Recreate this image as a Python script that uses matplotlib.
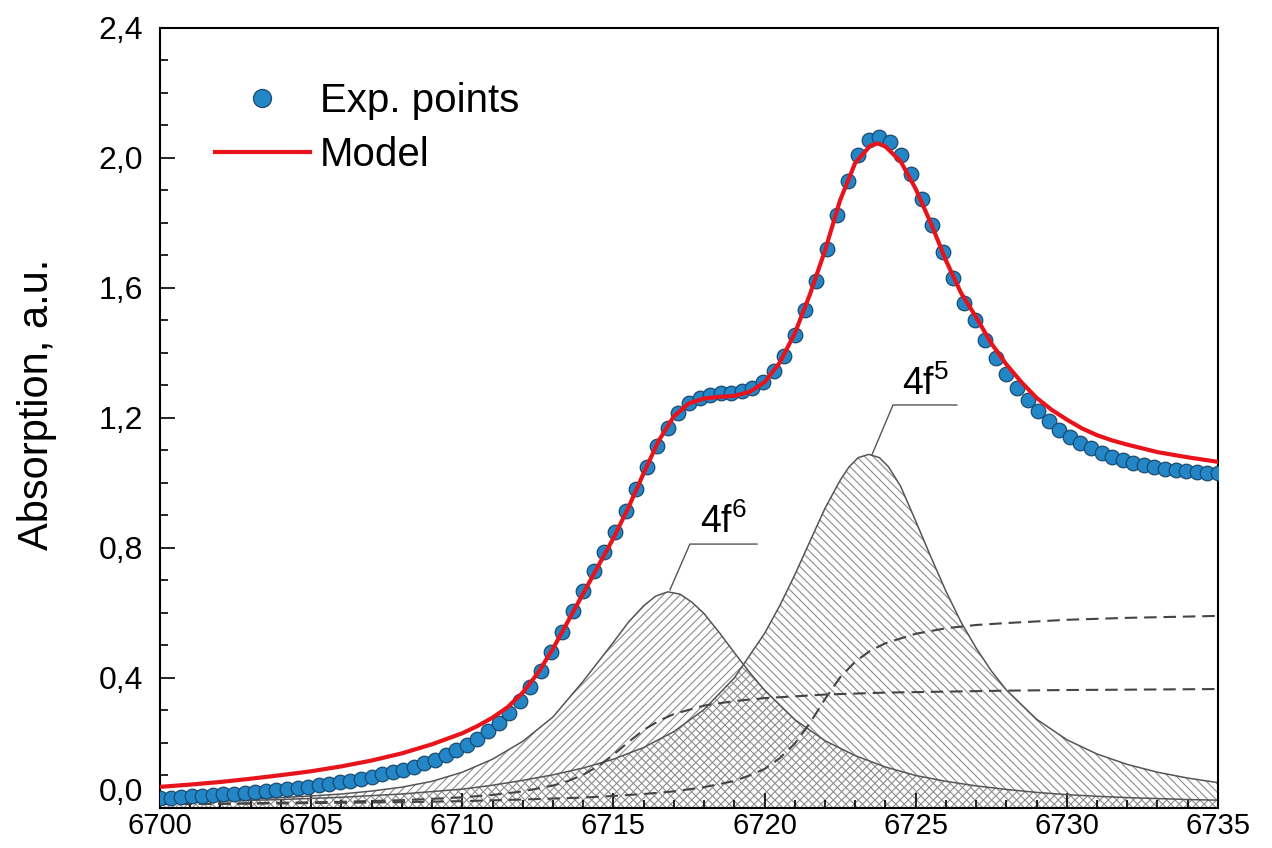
import numpy as np
import matplotlib
matplotlib.use("Agg")
import matplotlib.pyplot as plt
from matplotlib.lines import Line2D
from matplotlib.ticker import FuncFormatter, MultipleLocator

plt.rcParams['font.family'] = ['Liberation Sans', 'DejaVu Sans']
plt.rcParams['mathtext.default'] = 'regular'
plt.rcParams['hatch.linewidth'] = 0.8

# experimental points (regular energy grid, 0.35 eV)
exp_x = np.arange(101) * 0.35 + 6700
exp_y = [
    0.030, 0.032, 0.034, 0.036, 0.038, 0.040, 0.042, 0.044, 0.047, 0.050,
    0.053, 0.056, 0.059, 0.062, 0.066, 0.070, 0.074, 0.079, 0.084, 0.090,
    0.096, 0.103, 0.110, 0.118, 0.127, 0.137, 0.149, 0.162, 0.177, 0.194,
    0.213, 0.236, 0.262, 0.293, 0.330, 0.373, 0.423, 0.480, 0.542, 0.605,
    0.667, 0.728, 0.788, 0.850, 0.915, 0.982, 1.050, 1.115, 1.170, 1.214,
    1.245, 1.262, 1.272, 1.276, 1.278, 1.282, 1.292, 1.312, 1.345, 1.392,
    1.455, 1.532, 1.620, 1.720, 1.826, 1.928, 2.010, 2.055, 2.065, 2.050,
    2.010, 1.950, 1.875, 1.795, 1.712, 1.630, 1.553, 1.500, 1.440, 1.385,
    1.335, 1.292, 1.254, 1.220, 1.190, 1.164, 1.142, 1.123, 1.107, 1.093,
    1.081, 1.071, 1.062, 1.055, 1.049, 1.044, 1.040, 1.036, 1.033, 1.031,
    1.030,
]

# fitted model
model_x = [6700, 6701, 6702, 6703, 6704, 6705, 6706, 6707, 6708, 6709,
           6710, 6710.5, 6711, 6711.5, 6712, 6712.5, 6713, 6713.5, 6714, 6714.5,
           6715, 6715.5, 6716, 6716.5, 6717, 6717.5, 6718, 6718.5, 6719, 6719.5,
           6720, 6720.5, 6721, 6721.5, 6722, 6722.5, 6723, 6723.5, 6723.75, 6724,
           6724.5, 6725, 6725.5, 6726, 6726.5, 6727, 6727.5, 6728, 6728.5, 6729,
           6729.5, 6730, 6730.5, 6731, 6731.5, 6732, 6733, 6734, 6735]
model_y = [0.065, 0.072, 0.080, 0.090, 0.101, 0.113, 0.128, 0.146, 0.168, 0.196,
           0.230, 0.252, 0.278, 0.310, 0.355, 0.415, 0.490, 0.575, 0.660, 0.745,
           0.830, 0.925, 1.030, 1.130, 1.205, 1.245, 1.260, 1.265, 1.268, 1.280,
           1.310, 1.370, 1.460, 1.580, 1.715, 1.870, 1.985, 2.038, 2.045, 2.035,
           1.990, 1.905, 1.800, 1.685, 1.585, 1.510, 1.430, 1.365, 1.310, 1.262,
           1.225, 1.195, 1.168, 1.147, 1.131, 1.118, 1.095, 1.079, 1.065]

# 4f6 component
p6_x = [6700, 6701, 6702, 6703, 6704, 6705, 6706, 6707, 6708, 6709,
        6710, 6711, 6712, 6713, 6714, 6715, 6715.5, 6716, 6716.4, 6716.8,
        6717.2, 6717.6, 6718, 6718.5, 6719, 6719.5, 6720, 6721, 6722, 6723,
        6724, 6725, 6726, 6727, 6728, 6729, 6730, 6731, 6732, 6733, 6734, 6735]
p6_y = [0.018, 0.021, 0.024, 0.028, 0.032, 0.037, 0.043, 0.052, 0.064, 0.082,
        0.110, 0.150, 0.205, 0.280, 0.390, 0.510, 0.572, 0.622, 0.652, 0.665,
        0.658, 0.633, 0.598, 0.540, 0.478, 0.418, 0.362, 0.272, 0.207, 0.161,
        0.126, 0.100, 0.082, 0.068, 0.057, 0.048, 0.041, 0.036, 0.032, 0.029,
        0.026, 0.024]

# 4f5 component
p5_x = [6700, 6702, 6704, 6706, 6708, 6710, 6711, 6712, 6713, 6714,
        6715, 6716, 6717, 6718, 6719, 6720, 6720.5, 6721, 6721.5, 6722,
        6722.5, 6722.8, 6723.1, 6723.45, 6723.8, 6724.1, 6724.5, 6725, 6725.5,
        6726, 6726.5, 6727, 6727.5, 6728, 6729, 6730, 6731, 6732, 6733, 6734, 6735]
p5_y = [0.018, 0.021, 0.026, 0.033, 0.043, 0.058, 0.070, 0.085, 0.102, 0.123,
        0.150, 0.186, 0.235, 0.303, 0.400, 0.537, 0.622, 0.717, 0.820, 0.922,
        1.008, 1.050, 1.078, 1.088, 1.078, 1.050, 0.990, 0.883, 0.773,
        0.667, 0.572, 0.492, 0.422, 0.363, 0.273, 0.210, 0.166, 0.134, 0.110,
        0.092, 0.078]

# edge steps (dashed)
s1_x = [6700, 6702, 6704, 6706, 6708, 6709, 6710, 6711, 6712, 6713,
        6713.5, 6714, 6714.5, 6715, 6715.5, 6716, 6716.5, 6717, 6718, 6719,
        6720, 6722, 6724, 6726, 6728, 6730, 6732, 6735]
s1_y = [0.012, 0.013, 0.016, 0.019, 0.024, 0.028, 0.033, 0.040, 0.051, 0.069,
        0.083, 0.102, 0.129, 0.164, 0.203, 0.240, 0.268, 0.289, 0.315, 0.329,
        0.338, 0.349, 0.355, 0.358, 0.361, 0.363, 0.364, 0.366]

s2_x = [6700, 6702, 6704, 6706, 6708, 6710, 6712, 6713, 6714, 6715,
        6716, 6717, 6718, 6719, 6719.5, 6720, 6720.5, 6721, 6721.5, 6722,
        6722.5, 6723, 6723.5, 6724, 6725, 6726, 6727, 6728, 6730, 6732, 6735]
s2_y = [0.012, 0.013, 0.014, 0.016, 0.018, 0.021, 0.026, 0.029, 0.032, 0.037,
        0.043, 0.051, 0.064, 0.083, 0.100, 0.120, 0.153, 0.198, 0.261, 0.335,
        0.402, 0.450, 0.484, 0.507, 0.536, 0.553, 0.563, 0.569, 0.579, 0.585, 0.591]

fig = plt.figure(figsize=(12.72, 8.48), dpi=100)
ax = fig.add_axes([0.1258, 0.0472, 0.8317, 0.9198])

hatch_col = '#8c8c8c'
ax.fill_between(p6_x, 0, p6_y, facecolor='none', edgecolor=hatch_col,
                hatch='////', linewidth=0, zorder=1)
ax.fill_between(p5_x, 0, p5_y, facecolor='none', edgecolor=hatch_col,
                hatch='\\\\\\\\', linewidth=0, zorder=1)
ax.plot(p6_x, p6_y, color='#555555', lw=1.1, zorder=2)
ax.plot(p5_x, p5_y, color='#555555', lw=1.1, zorder=2)

ax.plot(s1_x, s1_y, color='#444444', lw=1.5, dashes=(6, 3.3), zorder=3)
ax.plot(s2_x, s2_y, color='#444444', lw=1.5, dashes=(6, 3.3), zorder=3)

ax.plot(exp_x, exp_y, 'o', ms=10.5, mfc='#2386c6', mec='#1b4a70', mew=0.9,
        ls='none', zorder=4)
ax.plot(model_x, model_y, color='#e8141c', lw=3, zorder=5)

# peak labels with leader lines
ax.plot([6716.87, 6717.53, 6719.75], [0.671, 0.812, 0.812], color='#555555', lw=1)
ax.text(6717.86, 0.845, '4f$^{6}$', fontsize=27, ha='left', va='baseline')
ax.plot([6723.55, 6724.25, 6726.36], [1.086, 1.240, 1.240], color='#555555', lw=1)
ax.text(6724.55, 1.272, '4f$^{5}$', fontsize=27, ha='left', va='baseline')

ax.set_xlim(6700, 6735)
ax.set_ylim(0, 2.4)
ax.xaxis.set_major_locator(MultipleLocator(5))
ax.xaxis.set_minor_locator(MultipleLocator(1))
ax.yaxis.set_major_locator(MultipleLocator(0.4))
ax.yaxis.set_minor_locator(MultipleLocator(0.1))
ax.yaxis.set_major_formatter(FuncFormatter(lambda v, p: f"{v:.1f}".replace('.', ',')))
ax.xaxis.set_major_formatter(FuncFormatter(lambda v, p: f"{v:.0f}"))

ax.tick_params(which='both', direction='in', top=False, right=False,
               labelsize=23, width=1.2)
ax.tick_params(which='major', length=11)
ax.tick_params(which='minor', length=5.5)
ax.tick_params(axis='y', pad=12)
ax.tick_params(axis='x', pad=3, labelsize=21)
for sp in ax.spines.values():
    sp.set_linewidth(1.5)

ax.set_ylabel('Absorption, a.u.', fontsize=30, labelpad=30, y=0.517)

handles = [
    Line2D([], [], marker='o', ls='none', ms=13, mfc='#2386c6', mec='#1b4a70', mew=0.9),
    Line2D([], [], color='#e8141c', lw=3),
]
fig.legend(handles, ['Exp. points', 'Model'], loc='upper left',
           bbox_to_anchor=(0.169, 0.903), frameon=False, fontsize=29,
           handlelength=2.35, handletextpad=0.25, labelspacing=0.4,
           borderpad=0, borderaxespad=0)

# lift the "0,0" label a little so it clears the x tick labels
fig.canvas.draw()
for lab in ax.get_yticklabels():
    if lab.get_text() == '0,0':
        lab.set_verticalalignment('bottom')

fig.savefig('out.png', dpi=100)
